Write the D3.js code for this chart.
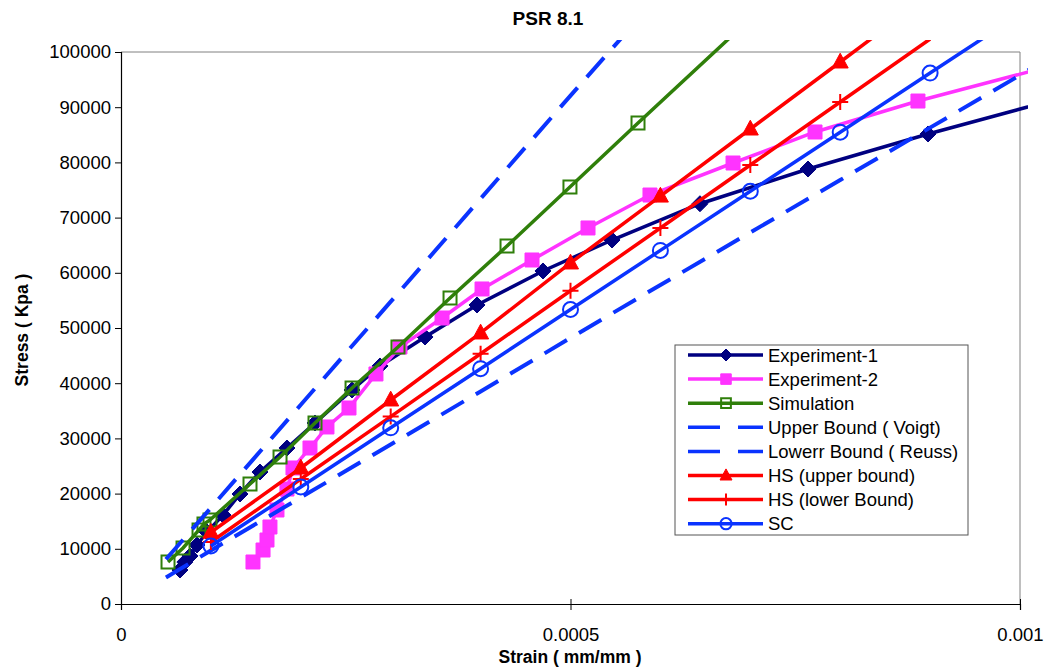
<!DOCTYPE html>
<html>
<head>
<meta charset="utf-8">
<script src="https://cdn.jsdelivr.net/npm/d3@7"></script>
<style>
body { margin: 0; background: #fff; }
text { font-family: "Liberation Sans", Arial, sans-serif; }
</style>
</head>
<body>
<div id="chart"></div>
<script>
// strain in mm/mm, stress in kPa
const exp1Strain = [0.0000656, 0.000071, 0.0000768, 0.0000845, 0.0000957, 0.0001135, 0.0001324, 0.0001546, 0.0001846, 0.0002158, 0.000257, 0.0002881, 0.0003382, 0.000396, 0.0004694, 0.0005462, 0.000644, 0.0007642, 0.0008977, 0.001033];
const exp1Stress = [6160, 7600, 8700, 10690, 13040, 16120, 19930, 23910, 28260, 32790, 38770, 43120, 48370, 54170, 60330, 65940, 72510, 78800, 85150, 91120];

const exp2Strain = [0.0001468, 0.000158, 0.0001624, 0.0001657, 0.0001735, 0.0001846, 0.0001913, 0.0002102, 0.0002291, 0.0002536, 0.0002836, 0.0003103, 0.0003571, 0.0004016, 0.0004572, 0.0005195, 0.0005884, 0.0006808, 0.000772, 0.0008865, 0.001011];
const exp2Stress = [7610, 9780, 11590, 13950, 17030, 20830, 24640, 28260, 32070, 35510, 41670, 46560, 51810, 57070, 62320, 68120, 74090, 79890, 85510, 91120, 96460];

const simStrain = [0.0000523, 0.000069, 0.0000868, 0.0000923, 0.000099, 0.0001435, 0.0001769, 0.0002158, 0.000257, 0.0003081, 0.000366, 0.0004294, 0.0004994, 0.0005751, 0.00068];
const simStress = [7610, 10140, 13410, 14490, 15220, 21740, 26630, 32790, 39130, 46560, 55430, 64850, 75540, 87140, 103000];

const voigtStrain = [0.00005, 0.0001, 0.0002, 0.0003, 0.0004, 0.0005, 0.00057];
const voigtStress = [8100, 17430, 36100, 54770, 73440, 92100, 105000];

const reussStrain = [0.00005, 0.0001, 0.0002, 0.0003, 0.0004, 0.0005, 0.0006, 0.0007, 0.0008, 0.0009, 0.001, 0.00102];
const reussStress = [4800, 9700, 19300, 28900, 38500, 48200, 57800, 67300, 76800, 86300, 95800, 97800];

const hsUpStrain = [0.0001, 0.0002, 0.0003, 0.0004, 0.0005, 0.0006, 0.0007, 0.0008, 0.0009];
const hsUpStress = [13000, 24640, 36960, 49100, 61780, 73900, 86050, 98190, 110400];

const hsLowStrain = [0.0001, 0.0002, 0.0003, 0.0004, 0.0005, 0.0006, 0.0007, 0.0008, 0.0009];
const hsLowStress = [11230, 22640, 33950, 45340, 56740, 68120, 79530, 90940, 102350];

const scStrain = [0.0001, 0.0002, 0.0003, 0.0004, 0.0005, 0.0006, 0.0007, 0.0008, 0.0009, 0.001];
const scStress = [10510, 21210, 31920, 42630, 53350, 64060, 74770, 85470, 96180, 106900];

const xTicks = [0, 0.0005, 0.001];
const xTickLabels = ['0', '0.0005', '0.001'];
const yTicks = [0, 10000, 20000, 30000, 40000, 50000, 60000, 70000, 80000, 90000, 100000];

const seriesNames = ['Experiment-1', 'Experiment-2', 'Simulation', 'Upper Bound ( Voigt)', 'Lowerr Bound ( Reuss)', 'HS (upper bound)', 'HS (lower Bound)', 'SC'];

const width = 1049, height = 667;
const plotLeft = 121, plotRight = 1020, plotTop = 52, plotBottom = 604;

const series = [
	{name: seriesNames[0], x: exp1Strain, y: exp1Stress, color: '#000080', marker: 'diamond', dash: null},
	{name: seriesNames[1], x: exp2Strain, y: exp2Stress, color: '#ff33ff', marker: 'square', dash: null},
	{name: seriesNames[2], x: simStrain, y: simStress, color: '#2f7f0a', marker: 'opensquare', dash: null},
	{name: seriesNames[3], x: voigtStrain, y: voigtStress, color: '#0a33ff', marker: null, dash: '26,14'},
	{name: seriesNames[4], x: reussStrain, y: reussStress, color: '#0a33ff', marker: null, dash: '26,14'},
	{name: seriesNames[5], x: hsUpStrain, y: hsUpStress, color: '#ff0000', marker: 'triangle', dash: null},
	{name: seriesNames[6], x: hsLowStrain, y: hsLowStress, color: '#ff0000', marker: 'plus', dash: null},
	{name: seriesNames[7], x: scStrain, y: scStress, color: '#0a33ff', marker: 'circle', dash: null}
];

var svg = d3.select('#chart')
	.append('svg')
	.attr('width', width)
	.attr('height', height);

var xScale = d3.scaleLinear()
	.domain([0, 0.001])
	.range([plotLeft, plotRight]);

var yScale = d3.scaleLinear()
	.domain([0, 100000])
	.range([plotBottom, plotTop]);

svg.append('defs')
	.append('clipPath')
	.attr('id', 'plotClip')
	.append('rect')
	.attr('x', plotLeft)
	.attr('y', 40)
	.attr('width', 1028 - plotLeft)
	.attr('height', plotBottom - 40);

// plot area frame (top and right in grey)
svg.append('path')
	.attr('d', `M${plotLeft},${plotTop}H${plotRight}V${plotBottom}`)
	.attr('fill', 'none')
	.attr('stroke', '#808080')
	.attr('stroke-width', 1);

function markerPath(type, s) {
	if (type == 'diamond') return `M0,${-s}L${s},0L0,${s}L${-s},0Z`;
	if (type == 'square' || type == 'opensquare') return `M${-s},${-s}H${s}V${s}H${-s}Z`;
	if (type == 'triangle') return `M0,${-s * 1.1}L${s},${s * 0.75}L${-s},${s * 0.75}Z`;
	if (type == 'plus') return `M${-s},0H${s}M0,${-s}V${s}`;
	return '';
}

function drawMarkers(g, d, sizeScale) {
	if (!d.marker) return;
	if (d.marker == 'circle') {
		g.append('circle')
			.attr('r', 7.5 * sizeScale)
			.attr('fill', 'none')
			.attr('stroke', d.color)
			.attr('stroke-width', 2);
		return;
	}
	var sizes = {diamond: 8, square: 7, opensquare: 6.5, triangle: 8, plus: 8};
	var filled = d.marker == 'diamond' || d.marker == 'square' || d.marker == 'triangle';
	g.append('path')
		.attr('d', markerPath(d.marker, sizes[d.marker] * sizeScale))
		.attr('fill', filled ? d.color : 'none')
		.attr('stroke', d.color)
		.attr('stroke-width', filled ? 1 : 2);
}

var line = d3.line()
	.x(d => xScale(d[0]))
	.y(d => yScale(d[1]));

var plot = svg.append('g').attr('clip-path', 'url(#plotClip)');

series.forEach(function(s) {
	var pts = s.x.map((v, i) => [v, s.y[i]]);
	var g = plot.append('g');
	g.append('path')
		.datum(pts)
		.attr('d', line)
		.attr('fill', 'none')
		.attr('stroke', s.color)
		.attr('stroke-width', s.dash ? 4 : 3.5)
		.attr('stroke-dasharray', s.dash);

	if (s.marker) {
		g.selectAll('g.m')
			.data(pts.filter(p => p[0] <= 0.001 && p[1] <= 100000))
			.enter()
			.append('g')
			.attr('class', 'm')
			.attr('transform', p => `translate(${xScale(p[0])},${yScale(p[1])})`)
			.each(function() { drawMarkers(d3.select(this), s, 1); });
	}
});

// axes
var yAxis = svg.append('g')
	.attr('transform', `translate(${plotLeft},0)`)
	.call(d3.axisLeft(yScale).tickValues(yTicks).tickSize(6).tickPadding(4).tickFormat(d3.format('d')));
yAxis.select('.domain').attr('stroke', '#000').attr('stroke-width', 1.2);
yAxis.selectAll('text')
	.attr('font-size', '18.5px')
	.attr('fill', '#000')
	.attr('font-family', '"Liberation Sans", Arial, sans-serif');

var xAxis = svg.append('g')
	.attr('transform', `translate(0,${plotBottom})`)
	.call(d3.axisBottom(xScale).tickValues(xTicks).tickSize(6).tickPadding(18).tickFormat((d, i) => xTickLabels[i]));
xAxis.select('.domain').attr('stroke', '#000').attr('stroke-width', 1.2);
xAxis.selectAll('.tick line').attr('y1', -5).attr('y2', 6);
xAxis.selectAll('text')
	.attr('font-size', '18.5px')
	.attr('fill', '#000')
	.attr('font-family', '"Liberation Sans", Arial, sans-serif');

// titles
svg.append('text')
	.attr('x', 548)
	.attr('y', 25)
	.attr('text-anchor', 'middle')
	.attr('font-size', '19px')
	.attr('font-weight', 'bold')
	.text('PSR 8.1');

svg.append('text')
	.attr('x', 570)
	.attr('y', 663)
	.attr('text-anchor', 'middle')
	.attr('font-size', '17.5px')
	.attr('font-weight', 'bold')
	.text('Strain ( mm/mm )');

svg.append('text')
	.attr('transform', 'translate(28,330) rotate(-90)')
	.attr('text-anchor', 'middle')
	.attr('font-size', '17.5px')
	.attr('font-weight', 'bold')
	.text('Stress ( Kpa )');

// legend
var legend = svg.append('g');
legend.append('rect')
	.attr('x', 675)
	.attr('y', 345)
	.attr('width', 293)
	.attr('height', 190)
	.attr('fill', '#fff')
	.attr('stroke', '#555')
	.attr('stroke-width', 1);

var rows = legend.selectAll('g.row')
	.data(series)
	.enter()
	.append('g')
	.attr('class', 'row')
	.attr('transform', (d, i) => `translate(0,${355 + i * 24.1})`);

rows.append('line')
	.attr('x1', 688)
	.attr('x2', 763)
	.attr('stroke', d => d.color)
	.attr('stroke-width', 3.5)
	.attr('stroke-dasharray', d => d.dash ? '32,18' : null);

rows.append('g')
	.attr('transform', 'translate(726,0)')
	.each(function(d) { drawMarkers(d3.select(this), d, 0.75); });

rows.append('text')
	.attr('x', 768)
	.attr('y', 6.5)
	.attr('font-size', '18.5px')
	.attr('fill', '#000')
	.text(d => d.name);
</script>
</body>
</html>
